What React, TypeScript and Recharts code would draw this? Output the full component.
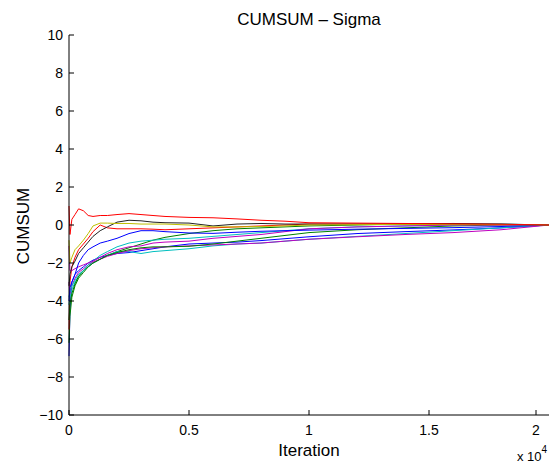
import { LineChart, Line, XAxis, YAxis } from 'recharts'

// iteration sample points (x axis)
const iterations = [0, 40, 120, 250, 400, 600, 800, 1000, 1300, 1600, 2000, 2500, 3000, 3500, 4000, 5000, 6000, 7000, 8000, 9000, 10000, 12000, 14000, 16000, 18000, 20000]

// cumsum traces, one per chain
const red1 = [1.0, -0.5, 0.3, 0.55, 0.85, 0.75, 0.5, 0.45, 0.5, 0.5, 0.55, 0.6, 0.55, 0.5, 0.45, 0.4, 0.38, 0.32, 0.25, 0.2, 0.12, 0.1, 0.08, 0.06, 0.04, 0]
const red2 = [-5.5, -3.0, -2.2, -1.7, -1.3, -1.0, -0.7, -0.35, 0.0, -0.15, -0.2, -0.2, -0.2, -0.22, -0.25, -0.2, -0.15, -0.1, -0.05, 0.0, 0.05, 0.05, 0.05, 0.03, 0.02, 0]
const yellow = [-0.8, -2.0, -1.7, -1.3, -1.1, -0.8, -0.45, -0.05, 0.1, 0.1, 0.08, 0.08, 0.05, 0.05, 0.05, 0.0, -0.1, -0.1, -0.08, -0.05, 0.0, 0.02, 0.03, 0.02, 0.02, 0]
const black = [-3.2, -2.6, -2.2, -1.9, -1.5, -1.2, -0.9, -0.6, -0.3, -0.1, 0.15, 0.25, 0.22, 0.15, 0.12, 0.1, -0.05, 0.05, 0.08, 0.05, 0.05, 0.05, 0.05, 0.08, 0.05, 0]
const blue1 = [-4.0, -3.3, -3.0, -2.6, -2.0, -1.6, -1.3, -1.15, -0.95, -0.85, -0.7, -0.45, -0.3, -0.3, -0.35, -0.42, -0.44, -0.38, -0.33, -0.3, -0.27, -0.22, -0.18, -0.14, -0.08, 0]
const blue2 = [-6.9, -4.5, -3.0, -2.6, -2.4, -2.2, -2.0, -1.85, -1.7, -1.6, -1.5, -1.45, -1.35, -1.25, -1.15, -1.0, -0.95, -0.9, -0.82, -0.72, -0.62, -0.45, -0.35, -0.26, -0.15, 0]
const cyan1 = [-3.8, -3.5, -3.2, -2.9, -2.6, -2.4, -2.1, -1.9, -1.6, -1.4, -1.15, -0.95, -0.85, -0.8, -0.75, -0.7, -0.6, -0.5, -0.4, -0.3, -0.2, -0.1, -0.05, 0.0, 0.05, 0]
const cyan2 = [-4.2, -3.8, -3.4, -3.0, -2.7, -2.4, -2.2, -2.0, -1.8, -1.6, -1.4, -1.4, -1.5, -1.4, -1.35, -1.25, -1.1, -1.0, -0.95, -0.85, -0.75, -0.6, -0.45, -0.3, -0.15, 0]
const green1 = [-6.2, -4.8, -3.8, -3.2, -2.8, -2.5, -2.2, -2.0, -1.8, -1.6, -1.4, -1.2, -1.0, -0.8, -0.65, -0.45, -0.3, -0.2, -0.15, -0.1, -0.05, 0.0, 0.05, 0.05, 0.03, 0]
const green2 = [-5.0, -4.2, -3.6, -3.1, -2.7, -2.4, -2.2, -2.0, -1.8, -1.6, -1.45, -1.3, -1.2, -1.15, -1.15, -1.12, -1.0, -0.85, -0.7, -0.55, -0.4, -0.25, -0.15, -0.05, 0.0, 0]
const magenta1 = [-1.1, -2.4, -2.4, -2.3, -2.2, -2.1, -2.0, -1.9, -1.7, -1.5, -1.3, -1.15, -1.1, -0.95, -0.9, -0.85, -0.7, -0.6, -0.5, -0.35, -0.2, -0.1, -0.05, 0.0, 0.0, 0]
const magenta2 = [-3.0, -3.6, -3.2, -2.8, -2.5, -2.3, -2.1, -1.95, -1.8, -1.65, -1.5, -1.35, -1.25, -1.2, -1.15, -1.1, -1.05, -1.0, -0.95, -0.85, -0.75, -0.62, -0.5, -0.4, -0.25, 0]

const xTicks = [0, 5000, 10000, 15000, 20000]
const yTicks = [-10, -8, -6, -4, -2, 0, 2, 4, 6, 8, 10]

const series = [
  { key: 'blue2', color: '#0000ff', values: blue2 },
  { key: 'green1', color: '#008000', values: green1 },
  { key: 'red2', color: '#ff0000', values: red2 },
  { key: 'cyan2', color: '#00bfbf', values: cyan2 },
  { key: 'magenta2', color: '#bf00bf', values: magenta2 },
  { key: 'green2', color: '#008000', values: green2 },
  { key: 'cyan1', color: '#00bfbf', values: cyan1 },
  { key: 'magenta1', color: '#bf00bf', values: magenta1 },
  { key: 'blue1', color: '#0000ff', values: blue1 },
  { key: 'black', color: '#222222', values: black },
  { key: 'yellow', color: '#bfbf00', values: yellow },
  { key: 'red1', color: '#ff0000', values: red1 },
]

const data = iterations.map((it, i) => {
  const row: Record<string, number> = { it }
  series.forEach(s => { row[s.key] = s.values[i] })
  return row
})

const font = 'Liberation Sans, Arial, Helvetica, sans-serif'

const XTick = ({ x, y, payload }: any) => (
  <g>
    <line x1={x} y1={y} x2={x} y2={y - 5} stroke="#000" />
    <text x={x} y={y + 20} textAnchor="middle" fontSize={14} fontFamily={font} fill="#000">
      {payload.value / 10000}
    </text>
  </g>
)

const YTick = ({ x, y, payload }: any) => (
  <g>
    <line x1={x} y1={y} x2={x + 5} y2={y} stroke="#000" />
    <text x={x - 6} y={y + 5} textAnchor="end" fontSize={14} fontFamily={font} fill="#000">
      {payload.value < 0 ? '\u2212' + Math.abs(payload.value) : payload.value}
    </text>
  </g>
)

export default function App() {
  return (
    <div style={{ position: 'absolute', left: 0, top: 0, width: 556, height: 467, background: '#fff' }}>
      <LineChart width={556} height={467} data={data} margin={{ top: 35, right: 7, bottom: 22, left: 29 }}>
        <XAxis
          dataKey="it"
          type="number"
          domain={[0, 20000]}
          ticks={xTicks}
          tickSize={0}
          tickMargin={0}
          tickLine={false}
          height={30}
          stroke="#000"
          tick={<XTick />}
        />
        <YAxis
          type="number"
          domain={[-10, 10]}
          ticks={yTicks}
          tickSize={0}
          tickMargin={0}
          tickLine={false}
          width={40}
          stroke="#000"
          tick={<YTick />}
        />
        {series.map(s => (
          <Line
            key={s.key}
            dataKey={s.key}
            stroke={s.color}
            strokeWidth={1}
            dot={false}
            type="linear"
            isAnimationActive={false}
          />
        ))}
        <text x={309} y={25} textAnchor="middle" fontSize={17} fontFamily={font} fill="#000">CUMSUM – Sigma</text>
        <text x={309} y={456} textAnchor="middle" fontSize={17} fontFamily={font} fill="#000">Iteration</text>
        <text x={29} y={226} textAnchor="middle" fontSize={17} fontFamily={font} fill="#000" transform="rotate(-90 29 226)">CUMSUM</text>
        <text x={517} y={461} fontSize={13} fontFamily={font} fill="#000">
          x 10<tspan dy={-8} fontSize={10}>4</tspan>
        </text>
      </LineChart>
    </div>
  )
}
